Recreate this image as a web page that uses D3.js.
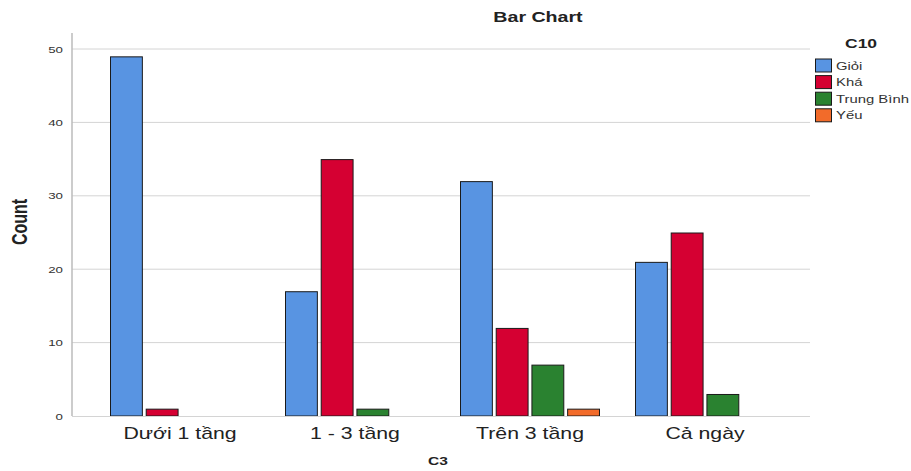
<!DOCTYPE html>
<html><head><meta charset="utf-8">
<script src="https://cdn.jsdelivr.net/npm/d3@7"></script>
<style>body{margin:0;background:#fff}svg{display:block}</style>
</head><body>
<svg id="c" width="911" height="471"></svg>
<script>
const categories = ["Dưới 1 tầng", "1 - 3 tầng", "Trên 3 tầng", "Cả ngày"];
const seriesNames = ["Giỏi", "Khá", "Trung Bình", "Yếu"];
const gioi = [49, 17, 32, 21];
const kha = [1, 35, 12, 25];
const trungBinh = [null, 1, 7, 3];
const yeu = [null, null, 1, null];
const yTicks = [0, 10, 20, 30, 40, 50];
const colors = ["#5894E2", "#D50032", "#2A8230", "#F26B2A"];

const seriesValues = [gioi, kha, trungBinh, yeu];
const svg = d3.select("#c");
const plotLeft = 72, plotRight = 810, plotTop = 49, plotBottom = 416;
const FONT = "Arial, Liberation Sans, sans-serif";

// horizontal stretch helper (the reference text is rendered wide)
function stretch(sel, k) {
  sel.each(function () {
    const w = this.getComputedTextLength();
    d3.select(this).attr("textLength", w * k).attr("lengthAdjust", "spacingAndGlyphs");
  });
}

const x0 = d3.scaleBand().domain(categories).range([92.5, 792.5]).paddingInner(0.2).paddingOuter(0.1);
const x1 = d3.scaleBand().domain(seriesNames).range([0, x0.bandwidth()]).paddingInner(0.08).paddingOuter(0);
const y = d3.scaleLinear().domain([0, 50]).range([plotBottom, plotTop]);

// gridlines
svg.append("g").selectAll("line").data(yTicks.slice(1)).join("line")
  .attr("x1", plotLeft).attr("x2", plotRight)
  .attr("y1", d => y(d)).attr("y2", d => y(d))
  .attr("stroke", "#d4d4d4").attr("stroke-width", 1);

// y axis
const yAxis = svg.append("g").attr("transform", `translate(${plotLeft},0)`)
  .call(d3.axisLeft(y).tickValues(yTicks).tickSize(0).tickPadding(9));
yAxis.select(".domain").attr("stroke", "#bbb").attr("stroke-width", 1.5).attr("d", `M0,${plotBottom}V33`);
yAxis.selectAll("text").attr("font-family", FONT)
  .attr("font-size", 9.5).attr("fill", "#333").call(stretch, 1.4);

// bars
const rows = [];
categories.forEach((c, i) => seriesNames.forEach((s, j) => {
  const v = seriesValues[j][i];
  if (v != null) rows.push({c, s, v, j});
}));
svg.append("g").selectAll("rect").data(rows).join("rect")
  .attr("x", d => x0(d.c) + x1(d.s) + 0.5)
  .attr("y", d => y(d.v) + 0.5)
  .attr("width", x1.bandwidth() - 1)
  .attr("height", d => plotBottom - y(d.v) - 0.5)
  .attr("fill", d => colors[d.j])
  .attr("stroke", "#1a1a1a").attr("stroke-width", 1);

// baseline
svg.append("line").attr("x1", plotLeft).attr("x2", plotRight).attr("y1", plotBottom + 0.5).attr("y2", plotBottom + 0.5)
  .attr("stroke", "#d4d4d4");

// x axis labels
const xAxis = svg.append("g").attr("transform", `translate(0,${plotBottom})`)
  .call(d3.axisBottom(x0).tickSize(0).tickPadding(11));
xAxis.select(".domain").remove();
xAxis.selectAll("text").attr("font-family", FONT)
  .attr("font-size", 17).attr("fill", "#222").call(stretch, 1.25);

// titles
svg.append("text").attr("x", 538).attr("y", 22).attr("text-anchor", "middle")
  .attr("font-family", FONT).attr("font-weight", "bold")
  .attr("font-size", 14).attr("fill", "#222").text("Bar Chart").call(stretch, 1.4);
svg.append("text").attr("transform", "translate(27,222) scale(1.35,1) rotate(-90)").attr("text-anchor", "middle")
  .attr("font-family", FONT).attr("font-weight", "bold")
  .attr("font-size", 16).attr("fill", "#222").text("Count");
svg.append("text").attr("x", 438).attr("y", 465).attr("text-anchor", "middle")
  .attr("font-family", FONT).attr("font-weight", "bold")
  .attr("font-size", 11.5).attr("fill", "#222").text("C3").call(stretch, 1.35);

// legend
const lg = svg.append("g");
lg.append("text").attr("x", 845).attr("y", 48)
  .attr("font-family", FONT).attr("font-weight", "bold")
  .attr("font-size", 12.5).attr("fill", "#222").text("C10").call(stretch, 1.4);
const items = lg.selectAll("g.item").data(seriesNames).join("g")
  .attr("transform", (d, i) => `translate(815,${58.5 + i * 16.6})`);
items.append("rect").attr("width", 16).attr("height", 13)
  .attr("x", 0.5).attr("y", 0.5)
  .attr("fill", (d, i) => colors[i]).attr("stroke", "#1a1a1a");
items.append("text").attr("x", 21).attr("y", 11)
  .attr("font-family", FONT)
  .attr("font-size", 11).attr("fill", "#333").text(d => d).call(stretch, 1.35);
</script>
</body></html>
